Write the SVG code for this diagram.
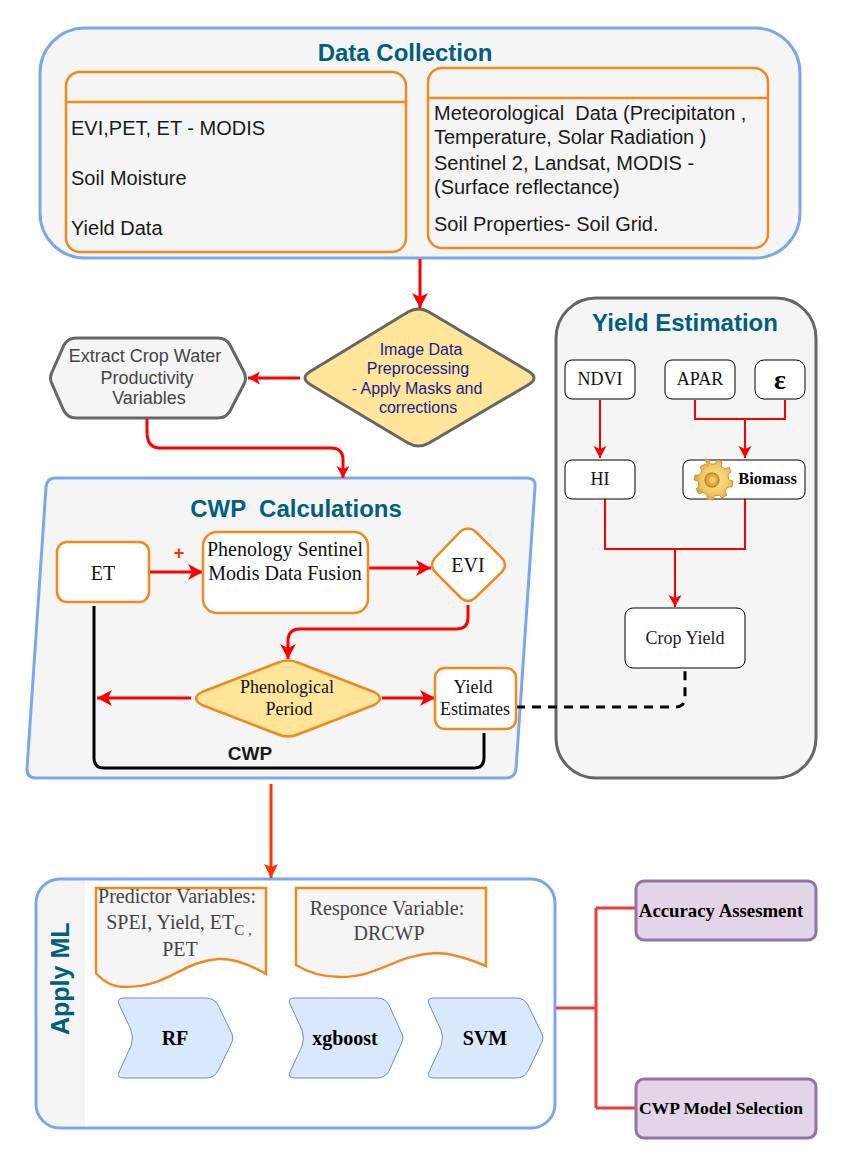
<svg xmlns="http://www.w3.org/2000/svg" width="842" height="1172" viewBox="0 0 842 1172">
<style>
text{font-family:"Liberation Sans",Arial,sans-serif}
.title{font-weight:bold;font-size:24px;fill:#005F7F;text-anchor:middle}
.dc{font-size:20px;fill:#1a1a1a}
.blue{fill:#f5f5f5;stroke:#7EA6EC;stroke-width:3}
.org{fill:#f5f5f5;stroke:#EE8A1E;stroke-width:2.500}
.orgw{fill:#fff;stroke:#EE8A1E;stroke-width:2.500}
.blk{fill:#fff;stroke:#000;stroke-width:1}
.gry{fill:#f5f5f5;stroke:#666;stroke-width:3}
.t{font-family:"Liberation Serif","Times New Roman",serif;text-anchor:middle;font-size:20px;fill:#111}
.s{font-size:18px}
.g{fill:#444}
.chev{fill:#DAE8FC;stroke:#6C8EBF;stroke-width:1}
.pur{fill:#E1D5E7;stroke:#9673A6;stroke-width:3}
.b{font-family:"Liberation Serif","Times New Roman",serif;font-weight:bold;text-anchor:middle;fill:#000;font-size:20px}
.r3{fill:none;stroke:#f00;stroke-width:3}
.r2{fill:none;stroke:#f00;stroke-width:2}
</style>
<defs>
<marker id="a" markerUnits="userSpaceOnUse" markerWidth="18" markerHeight="18" refX="15" refY="8" orient="auto"><path d="M0 0L15 8L0 16L4 8Z" fill="#f00"/></marker>
<marker id="as" markerUnits="userSpaceOnUse" markerWidth="14" markerHeight="14" refX="12" refY="6.500" orient="auto"><path d="M0 0L12 6.500L0 13L3 6.500Z" fill="#f00"/></marker>
<marker id="ao" markerUnits="userSpaceOnUse" markerWidth="18" markerHeight="18" refX="14" refY="7" orient="auto"><path d="M0 0L14 7L0 14L3 7Z" fill="#FF3300"/></marker>
<radialGradient id="gear" cx="0.55" cy="0.5" r="0.6"><stop offset="0" stop-color="#FBE79A"/><stop offset="0.6" stop-color="#F0C765"/><stop offset="1" stop-color="#D2963A"/></radialGradient>
</defs>

<g id="data-collection">
<rect class="blue" x="40" y="28" width="760" height="230" rx="45"/>
<text class="title" x="405" y="61">Data Collection</text>
<g id="dc-left">
<rect class="org" x="66" y="72" width="340" height="180" rx="14"/>
<path d="M66 102H406" fill="none" stroke="#EE8A1E" stroke-width="2.500"/>
<text class="dc" x="71" y="135">EVI,PET, ET - MODIS</text>
<text class="dc" x="71" y="185">Soil Moisture</text>
<text class="dc" x="71" y="235">Yield Data</text>
</g>
<g id="dc-right">
<rect class="org" x="428" y="68" width="340" height="180" rx="14"/>
<path d="M428 98H768" fill="none" stroke="#EE8A1E" stroke-width="2.500"/>
<text class="dc" x="434" y="120" xml:space="preserve">Meteorological  Data (Precipitaton ,</text>
<text class="dc" x="434" y="144">Temperature, Solar Radiation )</text>
<text class="dc" x="434" y="170">Sentinel 2, Landsat, MODIS -</text>
<text class="dc" x="434" y="194">(Surface reflectance)</text>
<text class="dc" x="434" y="231">Soil Properties- Soil Grid.</text>
</g>
</g>

<g id="preprocess">
<path d="M311 371L408 312Q418.500 306 429 312L528 371Q540 378 528 385L429 443Q418.500 449 408 443L311 385Q299 378 311 371Z" fill="#FFE599" stroke="#666" stroke-width="3"/>
<g fill="#1A1A8C" font-size="16" text-anchor="middle">
<text x="421" y="355">Image Data</text>
<text x="418" y="374">Preprocessing</text>
<text x="417" y="394">- Apply Masks and</text>
<text x="418" y="413">corrections</text>
</g>
</g>

<g id="extract">
<path d="M76 338H218Q226 338 230 345L244 372Q247 378 244 384L230 411Q226 418 218 418H76Q68 418 64 411L52 384Q49 378 52 372L64 345Q68 338 76 338Z" class="gry"/>
<g fill="#444" font-size="18" text-anchor="middle">
<text x="145" y="362">Extract Crop Water</text>
<text x="147" y="384">Productivity</text>
<text x="149" y="404">Variables</text>
</g>
</g>

<g id="yield-estimation">
<rect class="gry" x="556" y="298" width="260" height="480" rx="40"/>
<text class="title" x="685" y="331">Yield Estimation</text>
</g>

<g id="cwp-calculations">
<path d="M55 478H527Q536 478 535 487L516 769Q515 778 506 778H36Q27 778 27 769L46 487Q47 478 55 478Z" class="blue"/>
<text class="title" x="296" y="517" xml:space="preserve">CWP  Calculations</text>
</g>

<g id="apply-ml">
<rect x="36" y="879" width="519" height="249" rx="24" fill="#fff"/>
<path d="M85 879H60Q36 879 36 903V1104Q36 1128 60 1128H85Z" fill="#f5f5f5"/>
<rect x="36" y="879" width="519" height="249" rx="24" fill="none" stroke="#7EA6EC" stroke-width="3"/>
<text class="title" transform="translate(69 1035) rotate(-90)" style="text-anchor:start;font-size:25px">Apply ML</text>
</g>

<g id="connectors">
<path class="r3" d="M420 259V308" marker-end="url(#a)"/>
<path class="r3" d="M300 378H248" marker-end="url(#as)"/>
<path class="r3" d="M147 419V432Q147 448 160 448H331Q343 448 343 460V478" marker-end="url(#as)"/>
<path class="r3" d="M150 572H203" marker-end="url(#a)"/>
<path class="r3" d="M368 568H431" marker-end="url(#a)"/>
<path class="r3" d="M468 605V618Q468 629 456 629H300Q288 629 288 641V659" marker-end="url(#a)"/>
<path class="r3" d="M191 698H97" marker-end="url(#a)"/>
<path class="r3" d="M382 698H435" marker-end="url(#a)"/>
<path d="M94 606V758Q94 768 104 768H474Q484 768 484 758V733" fill="none" stroke="#000" stroke-width="3"/>
<path d="M516 707H675Q685 707 685 697V669" fill="none" stroke="#000" stroke-width="3" stroke-dasharray="9 7"/>
<path class="r2" d="M600 400V458" marker-end="url(#as)"/>
<path class="r2" d="M695 400V419H785V400M745 419V458" marker-end="url(#as)"/>
<path class="r2" d="M605 499V549H745V499M675 549V607" marker-end="url(#as)"/>
<path d="M271 784V878" fill="none" stroke="#FF3300" stroke-width="3" marker-end="url(#ao)"/>
<path d="M556 1008H596M596 908H636M596 908V1108M596 1108H636" fill="none" stroke="#F23838" stroke-width="3"/>
</g>

<g id="ndvi"><rect class="blk" x="565" y="360" width="70" height="39" rx="7"/><text class="t s" x="600" y="385">NDVI</text></g>
<g id="apar"><rect class="blk" x="665" y="360" width="70" height="39" rx="7"/><text class="t s" x="700" y="385">APAR</text></g>
<g id="epsilon"><rect class="blk" x="755" y="360" width="50" height="39" rx="9"/><text class="b" x="780" y="389" style="font-size:28px">ε</text></g>
<g id="hi"><rect class="blk" x="565" y="460" width="70" height="39" rx="7"/><text class="t s" x="600" y="485">HI</text></g>
<g id="biomass"><rect class="blk" x="683" y="460" width="122" height="39" rx="7"/>
<path d="M705 459l4 1 1 4 5 0 2-4 5 2-1 4 4 3 4-2 2 5-3 3 1 5 4 1-1 6-4 0-3 4 2 4-5 3-3-3-5 1-1 4-6-1 0-4-4-3-4 2-3-5 3-3-1-5-4-1 1-5 4 0 3-4-2-4 5-3 3 2z" fill="url(#gear)" stroke="#D2963A" stroke-width="1"/>
<circle cx="712" cy="480" r="7" fill="#E3A83C" stroke="#C08A2E" stroke-width="1.500"/>
<circle cx="712.500" cy="480" r="3.500" fill="#F3C869"/>
<text class="b" x="767.500" y="484" style="font-size:16.500px">Biomass</text></g>
<g id="crop-yield"><rect class="blk" x="625" y="608" width="120" height="60" rx="8"/><text class="t s" x="685" y="644" style="fill:#222">Crop Yield</text></g>

<g id="et"><rect class="orgw" x="57" y="542" width="92" height="60" rx="10"/><text class="t" x="103" y="580">ET</text></g>
<text x="179" y="559" font-size="18" font-weight="bold" fill="#FF3300" text-anchor="middle">+</text>
<g id="phenology"><rect class="orgw" x="203" y="532" width="165" height="81" rx="14"/><text class="t" x="285" y="556">Phenology Sentinel</text><text class="t" x="285" y="580">Modis Data Fusion</text></g>
<g id="evi"><path class="orgw" d="M461 531Q468 526 475 531L502 558Q508 565 502 572L475 598Q468 604 461 598L435 572Q429 565 435 558Z"/><text class="t" x="468" y="572">EVI</text></g>
<g id="phenological"><path d="M277 663Q288 658 299 663L374 692Q386 698 374 705L299 734Q288 739 277 734L202 705Q190 698 202 692Z" fill="#FFE599" stroke="#EE8A1E" stroke-width="2.500"/><text class="t s" x="287" y="693">Phenological</text><text class="t s" x="289" y="715">Period</text></g>
<g id="yield-estimates"><rect class="orgw" x="435" y="668" width="81" height="61" rx="10"/><text class="t s" x="473" y="693">Yield</text><text class="t s" x="475" y="715">Estimates</text></g>
<text x="250" y="760" font-size="19" font-weight="bold" fill="#1a1a1a" text-anchor="middle">CWP</text>

<g id="predictor"><path class="org" d="M96 888H266V974Q239 958 218 959C180 962 170 987 125 987Q108 987 96 973Z"/>
<text class="t g" x="177" y="903">Predictor Variables:</text><text x="179" y="929" class="t g">SPEI, Yield, ET<tspan dy="6" style="font-size:15px">C ,</tspan></text><text x="180" y="956" class="t g">PET</text></g>
<g id="response"><path class="org" d="M296 888H486V966Q455 953 435 953C395 955 380 977 340 977Q315 977 296 965Z"/>
<text class="t g" x="387" y="915">Responce Variable:</text><text class="t g" x="389" y="940">DRCWP</text></g>
<g id="rf"><path class="chev" d="M124 998H206Q214 998 218 1005L232 1034Q234 1038 232 1042L218 1071Q214 1078 206 1078H124Q116 1078 119 1072L131 1046Q134 1038 131 1030L119 1004Q116 998 124 998Z"/><text class="b" x="175" y="1045">RF</text></g>
<g id="xgboost"><path class="chev" d="M295 998H377Q385 998 389 1005L402 1034Q404 1038 402 1042L389 1071Q385 1078 377 1078H295Q287 1078 290 1072L302 1046Q305 1038 302 1030L290 1004Q287 998 295 998Z"/><text class="b" x="345" y="1045">xgboost</text></g>
<g id="svm"><path class="chev" d="M434 998H516Q524 998 528 1005L542 1034Q544 1038 542 1042L528 1071Q524 1078 516 1078H434Q426 1078 429 1072L441 1046Q444 1038 441 1030L429 1004Q426 998 434 998Z"/><text class="b" x="485" y="1045">SVM</text></g>
<g id="accuracy"><rect class="pur" x="636" y="881" width="180" height="59" rx="8"/><text class="b" x="721" y="917" style="font-size:18.800px">Accuracy Assesment</text></g>
<g id="model-selection"><rect class="pur" x="636" y="1079" width="180" height="59" rx="8"/><text class="b" x="721" y="1114" style="font-size:17.600px">CWP Model Selection</text></g>
</svg>
